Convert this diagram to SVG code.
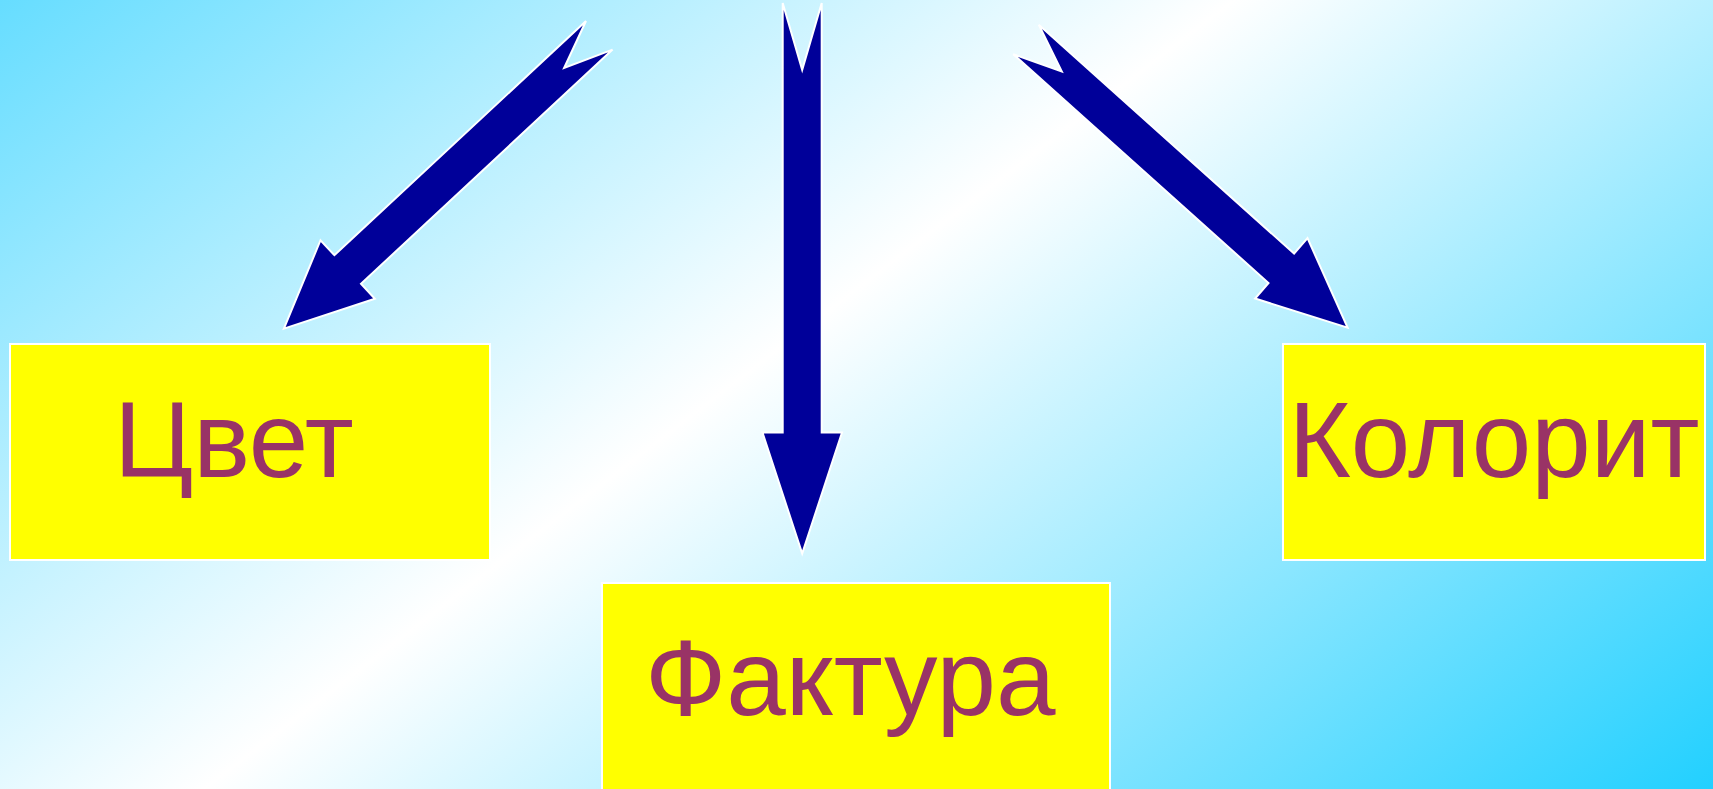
<svg xmlns="http://www.w3.org/2000/svg" width="1713" height="789" viewBox="0 0 1713 789">
<defs>
<linearGradient id="bg" gradientUnits="userSpaceOnUse" x1="0" y1="0" x2="1014" y2="1324">
<stop offset="0" stop-color="#66DDFF"/>
<stop offset="0.45" stop-color="#FFFFFF"/>
<stop offset="1" stop-color="#22D0FF"/>
</linearGradient>
</defs>
<style>
.box{fill:#FFFF00;stroke:#FFFFFF;stroke-width:2}
.lbl{font-family:"Liberation Sans",Arial,sans-serif;font-size:107px;fill:#993366}
.arr{fill:#000099;stroke:#FFFFFF;stroke-width:2;stroke-linejoin:miter}
</style>
<rect width="1713" height="789" fill="url(#bg)"/>
<g id="connectors">
<polygon class="arr" points="586,21 334.4,255.2 320.5,240.2 283.9,328.7 374.9,298.8 361,283.8 612.6,49.6 564.1,68"/>
<polygon class="arr" points="782.7,3 782.7,432.5 762.5,432.5 802.2,553.5 842,432.5 821.7,432.5 821.7,3 802.2,70"/>
<polygon class="arr" points="1038.8,24.8 1294.1,253.6 1307.5,238.1 1347.6,327.7 1255.1,298.5 1268.5,283 1013.2,54.2 1061.8,71.5"/>
</g>
<g id="node-cvet">
<rect class="box" x="10" y="344" width="480" height="216"/>
<text class="lbl" x="114" y="477">Цвет</text>
</g>
<g id="node-faktura">
<rect class="box" x="602" y="583" width="508" height="220"/>
<text class="lbl" x="645" y="715">Фактура</text>
</g>
<g id="node-kolorit">
<rect class="box" x="1283" y="344" width="422" height="216"/>
<text class="lbl" x="1494" y="477" text-anchor="middle">Колорит</text>
</g>
</svg>
